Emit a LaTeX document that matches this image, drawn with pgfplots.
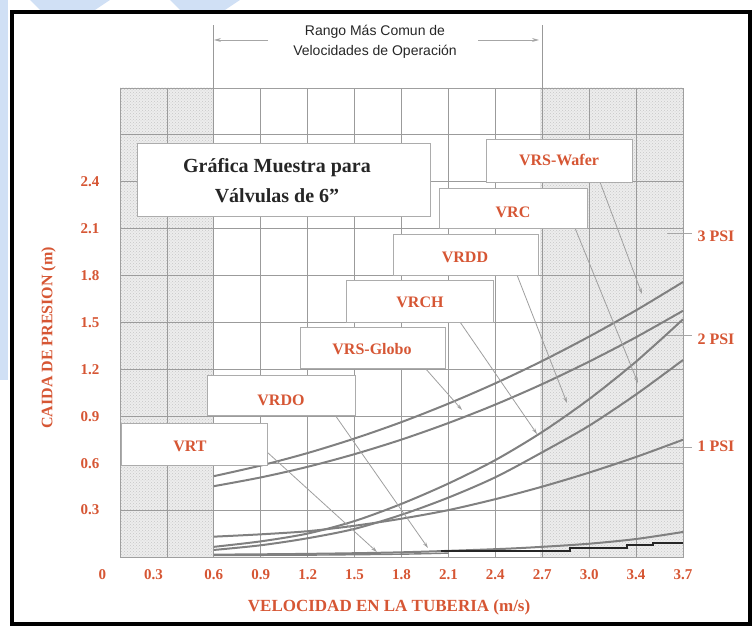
\documentclass[border=0pt]{standalone}
\usepackage{pgfplots}
\pgfplotsset{compat=1.18}
\usepackage{fontspec}
\setmainfont{Liberation Serif}
\newfontfamily\arialfont{Liberation Sans}
\usetikzlibrary{arrows.meta,patterns}
\definecolor{lblred}{RGB}{214,86,52}
\definecolor{curvegray}{RGB}{128,128,128}
\definecolor{gridgray}{RGB}{155,155,155}
\definecolor{wmblue}{RGB}{208,224,245}
\begin{document}
\begin{tikzpicture}
\useasboundingbox (0,0) rectangle (756pt,628pt);
\begin{scope}[x=1pt,y=-1pt,shift={(0pt,628pt)}]
  % faint watermark shapes
  \fill[wmblue] (0,0) -- (8,0) -- (8,380) -- (0,380) -- cycle;
  \fill[wmblue] (30,0) -- (110,0) -- (95,10) -- (40,10) -- cycle;
  \fill[wmblue] (170,0) -- (240,0) -- (225,10) -- (180,10) -- cycle;
  % stippled zones
  \fill[gray!14] (120,88) rectangle (213,557);
  \fill[gray!14] (540,88) rectangle (683,557);
  \fill[pattern=crosshatch dots, pattern color=gray!45] (120,88) rectangle (213,557);
  \fill[pattern=crosshatch dots, pattern color=gray!45] (540,88) rectangle (683,557);
\end{scope}
\begin{axis}[
  at={(120pt,71pt)}, anchor=south west,
  scale only axis, width=563pt, height=469pt,
  xmin=0, xmax=3.6, ymin=0, ymax=3.0,
  clip=false,
  xtick={0,0.3,0.6,0.9,1.2,1.5,1.8,2.1,2.4,2.7,3.0,3.3,3.6},
  xticklabels={\llap{0\hspace{14pt}},\llap{0.3\hspace{4pt}},0.6,0.9,1.2,1.5,1.8,2.1,2.4,2.7,3.0,3.4,3.7},
  ytick={0,0.3,0.6,0.9,1.2,1.5,1.8,2.1,2.4,2.7,3.0},
  yticklabels={,0.3,0.6,0.9,1.2,1.5,1.8,2.1,2.4,,},
  /pgf/number format/assume math mode=true,
  grid=major,
  major grid style={draw=gridgray, line width=0.8pt},
  major tick length=0pt,
  axis line style={draw=gray!75, line width=0.9pt},
  tick label style={font=\fontsize{15}{18}\selectfont\bfseries, text=lblred},
  xticklabel style={yshift=-9pt},
  yticklabel style={xshift=-17pt},
  xlabel={VELOCIDAD EN LA TUBERIA (m/s)},
  ylabel={CAIDA DE PRESION (m)},
  x label style={at={(axis description cs:0.478,-0.107)}, anchor=center,
                 font=\fontsize{17}{20}\selectfont\bfseries, text=lblred},
  y label style={at={(axis description cs:-0.127,0.467)}, anchor=center,
                 font=\fontsize{16}{19}\selectfont\bfseries, text=lblred},
  curve/.style={smooth, no marks, draw=curvegray, line width=2pt},
]
% heavier boundaries of the usual operating range, extended upward
\draw[draw=gray!80, line width=1.1pt] (axis cs:0.6,0) -- (axis cs:0.6,3.40);
\draw[draw=gray!80, line width=1.1pt] (axis cs:2.7,0) -- (axis cs:2.7,3.40);

% curves (VRS-Wafer, VRC ... VRT)
\addplot[curve] coordinates {(0.6,0.517) (0.9,0.585) (1.2,0.665) (1.5,0.758) (1.8,0.863) (2.1,0.981) (2.4,1.111) (2.7,1.254) (3.0,1.410) (3.3,1.578) (3.6,1.759)};
\addplot[curve] coordinates {(0.6,0.453) (0.9,0.509) (1.2,0.577) (1.5,0.658) (1.8,0.751) (2.1,0.857) (2.4,0.975) (2.7,1.106) (3.0,1.250) (3.3,1.406) (3.6,1.575)};
\addplot[curve] coordinates {(0.6,0.065) (0.9,0.10) (1.2,0.15) (1.5,0.23) (1.8,0.34) (2.1,0.47) (2.4,0.62) (2.7,0.80) (3.0,1.01) (3.3,1.25) (3.6,1.52)};
\addplot[curve] coordinates {(0.6,0.045) (0.9,0.075) (1.2,0.12) (1.5,0.18) (1.8,0.27) (2.1,0.38) (2.4,0.51) (2.7,0.67) (3.0,0.84) (3.3,1.04) (3.6,1.26)};
\addplot[curve] coordinates {(0.6,0.13) (0.9,0.145) (1.2,0.165) (1.5,0.20) (1.8,0.245) (2.1,0.30) (2.4,0.37) (2.7,0.45) (3.0,0.54) (3.3,0.64) (3.6,0.75)};
\addplot[curve] coordinates {(0.6,0.015) (1.2,0.02) (1.8,0.03) (2.4,0.05) (2.7,0.065) (3.0,0.085) (3.3,0.115) (3.6,0.16)};
\addplot[curve, line width=1.4pt] coordinates {(0.6,0.010) (1.2,0.012) (1.8,0.018) (2.1,0.025)};
\addplot[const plot, no marks, draw=black!85, line width=2pt] coordinates {(2.05,0.038) (2.88,0.060) (3.24,0.075) (3.41,0.088) (3.6,0.088)};

% PSI marks on the right
\draw[gray!70, line width=0.8pt] (axis cs:3.5,2.07) -- (axis cs:3.66,2.07);
\draw[gray!70, line width=0.8pt] (axis cs:3.5,1.42) -- (axis cs:3.66,1.42);
\draw[gray!70, line width=0.8pt] (axis cs:3.5,0.70) -- (axis cs:3.66,0.70);
\node[anchor=west, font=\fontsize{16}{19}\selectfont\bfseries, text=lblred, xshift=11pt] at (axis cs:3.6,2.05) {3 PSI};
\node[anchor=west, font=\fontsize{16}{19}\selectfont\bfseries, text=lblred, xshift=11pt] at (axis cs:3.6,1.39) {2 PSI};
\node[anchor=west, font=\fontsize{16}{19}\selectfont\bfseries, text=lblred, xshift=11pt] at (axis cs:3.6,0.71) {1 PSI};
\end{axis}
\begin{scope}[x=1pt,y=-1pt,shift={(0pt,628pt)},
  box/.style={draw=gray!65, fill=white, line width=0.8pt},
  lab/.style={font=\fontsize{16}{19}\selectfont\bfseries, text=lblred},
  lead/.style={draw=gray!75, line width=0.8pt, -{Stealth[length=6pt,width=3.5pt]}}]
  % leader lines
  \draw[lead] (267,452) -- (377,552);
  \draw[lead] (335,415) -- (428,548);
  \draw[lead] (425,368) -- (462,410);
  \draw[lead] (460,322) -- (537,434);
  \draw[lead] (517,275) -- (567,403);
  \draw[lead] (575,228) -- (638,383);
  \draw[lead] (600,182) -- (642,294);
  % boxes
  \draw[box] (137,143) rectangle (430,216);
  \node[font=\fontsize{20}{30}\selectfont\bfseries, text=black!85, align=center] at (277,181) {Gráfica Muestra para\\Válvulas de 6”};
  \draw[box] (486,139) rectangle (632,182); \node[lab] at (559,160) {VRS-Wafer};
  \draw[box] (439,188) rectangle (587,228); \node[lab] at (513,212) {VRC};
  \draw[box] (393,234) rectangle (538,275); \node[lab] at (465,257) {VRDD};
  \draw[box] (346,280) rectangle (493,322); \node[lab] at (420,302) {VRCH};
  \draw[box] (300,327) rectangle (445,368); \node[lab] at (372,349) {VRS-Globo};
  \draw[box] (207,375) rectangle (355,415); \node[lab] at (281,400) {VRDO};
  \draw[box] (121,423) rectangle (267,465); \node[lab] at (190,446) {VRT};
  % operating range bracket
  \node[font=\arialfont\fontsize{14}{17}\selectfont, text=black!85] at (375,32) {Rango Más Comun de};
  \node[font=\arialfont\fontsize{14}{17}\selectfont, text=black!85] at (375,52) {Velocidades de Operación};
  \draw[draw=gray!70, line width=0.8pt, -{Stealth[length=7pt,width=4pt]}] (268,40) -- (214,40);
  \draw[draw=gray!70, line width=0.8pt, -{Stealth[length=7pt,width=4pt]}] (478,40) -- (539,40);
  % outer frame
  \draw[line width=3.5pt, black] (12,12) rectangle (750,624);
\end{scope}
\end{tikzpicture}
\end{document}
